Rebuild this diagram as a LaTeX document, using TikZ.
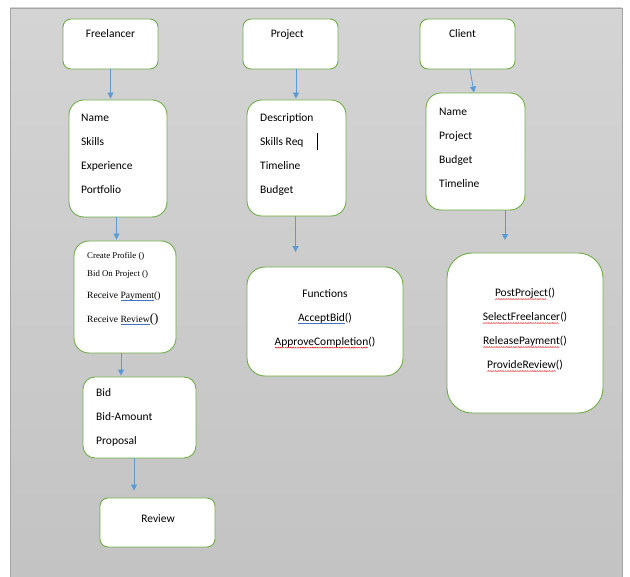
\documentclass[tikz,border=0pt]{standalone}
\usepackage{fontspec}
\setmainfont{Carlito}
\newfontfamily\timesfont{Liberation Serif}
\usetikzlibrary{arrows.meta}

\definecolor{boxgreen}{HTML}{70AD47}
\definecolor{arrowblue}{HTML}{5B9BD5}
\definecolor{ulblue}{HTML}{4472C4}
\definecolor{bgtop}{HTML}{D4D4D4}
\definecolor{bgbottom}{HTML}{C3C3C3}
\definecolor{bgline}{HTML}{A5A5A5}

\newcommand{\blueul}[1]{\setbox0\hbox{#1}\rlap{\textcolor{ulblue}{\rule[-2pt]{\wd0}{0.6pt}}}\box0}
\newcommand{\redwave}[1]{\setbox0\hbox{#1}\rlap{\raisebox{-3.2pt}{\leaders\hbox{\tikz\draw[red,line width=0.45pt] (0pt,0pt)--(1pt,1pt)--(2pt,0pt);}\hskip\wd0}}\box0}

\tikzset{
    umlbox/.style={draw=boxgreen, line width=0.9pt, fill=white, inner sep=0pt, rounded corners=#1},
    umlbox/.default=8pt,
    txt/.style={inner sep=0pt, font=\fontsize{11.5}{24}\selectfont},
    link/.style={draw=arrowblue, line width=0.8pt, -{Triangle[width=6pt,length=6pt]}}
}

\begin{document}
\begin{tikzpicture}[x=1pt,y=-1pt]
\useasboundingbox (0,0) rectangle (630,577);
\shade[top color=bgtop, bottom color=bgbottom] (10,8) rectangle (622,577);
\draw[bgline, line width=0.8pt] (10,590) -- (10,8) -- (622,8) -- (622,590);

    \node[umlbox, minimum width=95pt, minimum height=50pt] (1) at (110.5,44) {};
    \node[umlbox=15pt, minimum width=98pt, minimum height=117pt] (2) at (118,158.5) {};
    \node[umlbox=15pt, minimum width=102pt, minimum height=112pt] (3) at (125,297) {};
    \node[umlbox=12pt, minimum width=113pt, minimum height=81pt] (4) at (139.5,417.5) {};
    \node[umlbox, minimum width=115pt, minimum height=49pt] (5) at (157.5,522.5) {};
    \node[umlbox, minimum width=95pt, minimum height=50pt] (6) at (290.5,44) {};
    \node[umlbox=15pt, minimum width=99pt, minimum height=116pt] (7) at (296.5,158) {};
    \node[umlbox=18pt, minimum width=156pt, minimum height=109pt] (8) at (325,321.5) {};
    \node[umlbox, minimum width=95pt, minimum height=50pt] (9) at (467.5,44) {};
    \node[umlbox=15pt, minimum width=99pt, minimum height=117pt] (10) at (475.5,151.5) {};
    \node[umlbox=25pt, minimum width=156pt, minimum height=160pt] (11) at (525,333) {};

    % texts
    \node[txt, anchor=north] (1a) at (110.5,29) {Freelancer};
    \node[txt, anchor=north west, align=left] (2a) at (81,113.5) {Name\\Skills\\Experience\\Portfolio};
    \node[inner sep=0pt, anchor=north west, align=left, font=\timesfont\fontsize{8.8}{18}\selectfont] (3a) at (87,252)
        {Create Profile ()\\Bid On Project ()\\[4.5pt]{\fontsize{9.6}{12}\selectfont Receive \blueul{Payment}()}\\[6pt]{\fontsize{9.6}{12}\selectfont Receive \blueul{Review}{\fontsize{13}{13}\selectfont()}}};
    \node[txt, anchor=north west, align=left] (4a) at (96,388.5) {Bid\\Bid-Amount\\Proposal};
    \node[txt, anchor=north] (5a) at (158,514) {Review};
    \node[txt, anchor=north] (6a) at (287.3,29) {Project};
    \node[txt, anchor=north west, align=left] (7a) at (260,113) {Description\\Skills Req\\Timeline\\Budget};
    \node[txt, anchor=north, align=center] (8a) at (325,289) {Functions\\\blueul{AcceptBid}()\\\redwave{ApproveCompletion}()};
    \node[txt, anchor=north] (9a) at (462.5,29) {Client};
    \node[txt, anchor=north west, align=left] (10a) at (439,107.5) {Name\\Project\\Budget\\Timeline};
    \node[txt, anchor=north, align=center] (11a) at (525,288) {\redwave{PostProject}()\\\redwave{SelectFreelancer}()\\\redwave{ReleasePayment}()\\\redwave{ProvideReview}()};
    \draw[line width=0.9pt] (317,133) -- (317,150);

    % arrows
    \draw[link, shorten >=1pt] (1) -- (1 |- 2.north);
    \draw[link, shorten >=1pt] ([xshift=-1.5pt]2.south) -- ([xshift=-1.5pt]2.south |- 3.north);
    \draw[link, shorten >=1pt] ([xshift=-4pt]3.south) -- ([xshift=-4pt]3.south |- 4.north);
    \draw[link, shorten >=7pt] ([xshift=-5.5pt]4.south) -- ([xshift=-5.5pt]4.south |- 5.north);
    \draw[link, shorten >=1pt] ([xshift=5.5pt]6.south) -- ([xshift=5.5pt]6.south |- 7.north);
    \draw[link, shorten >=14.5pt] ([xshift=-1pt]7.south) -- ([xshift=-1pt]7.south |- 8.north);
    \draw[link] ([xshift=2.5pt]9.south) -- ([xshift=-1.5pt]10.north);
    \draw[link, shorten >=12.5pt] ([xshift=29.5pt]10.south) -- ([xshift=29.5pt]10.south |- 11.north);
\end{tikzpicture}
\end{document}
